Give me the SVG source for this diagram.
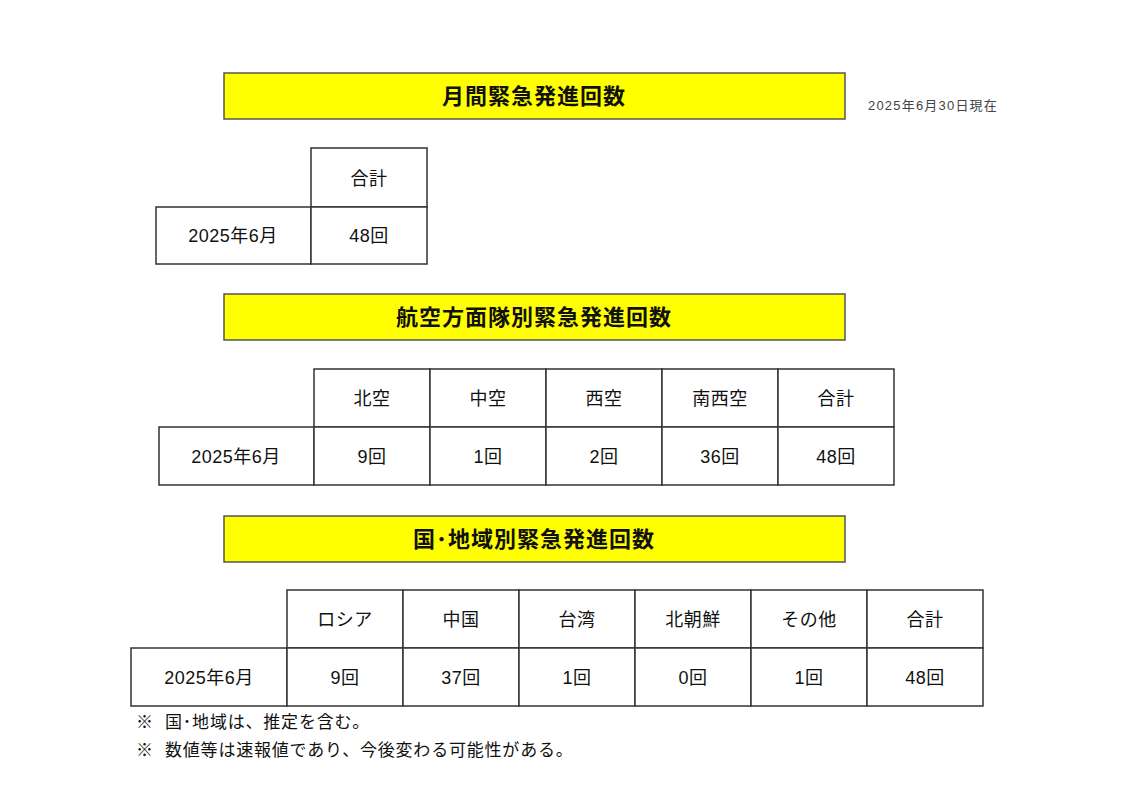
<svg xmlns="http://www.w3.org/2000/svg" width="1123" height="794" viewBox="0 0 1123 794">
<style>
text{font-family:"Liberation Sans","Noto Sans CJK JP",sans-serif;fill:#111}
.b{fill:#ffff00;stroke:#555;stroke-width:1.5}
.bt{font-size:22px;text-anchor:middle;font-weight:bold;letter-spacing:1px}
.c{fill:#fff;stroke:#333;stroke-width:1.5}
.t{font-size:18px;text-anchor:middle;letter-spacing:0.5px}
.n{font-size:17px;letter-spacing:0.8px}
</style>
<rect width="1123" height="794" fill="#fff"/>
<g id="title1"><rect class="b" x="224" y="73" width="621" height="46"/><text class="bt" x="534" y="104">月間緊急発進回数</text></g>
<text id="date" x="868" y="110" font-size="13" letter-spacing="1.2" style="fill:#444">2025年6月30日現在</text>
<g id="table1">
<rect class="c" x="311" y="148" width="116" height="59"/>
<rect class="c" x="156" y="207" width="155" height="57"/>
<rect class="c" x="311" y="207" width="116" height="57"/>
<text class="t" x="369" y="185">合計</text>
<text class="t" x="233" y="242">2025年6月</text>
<text class="t" x="369" y="242">48回</text>
</g>
<g id="title2"><rect class="b" x="224" y="294" width="621" height="46"/><text class="bt" x="534" y="325">航空方面隊別緊急発進回数</text></g>
<g id="table2">
<rect class="c" x="314" y="369" width="116" height="58"/><rect class="c" x="430" y="369" width="116" height="58"/><rect class="c" x="546" y="369" width="116" height="58"/><rect class="c" x="662" y="369" width="116" height="58"/><rect class="c" x="778" y="369" width="116" height="58"/>
<rect class="c" x="159" y="427" width="155" height="58"/>
<rect class="c" x="314" y="427" width="116" height="58"/><rect class="c" x="430" y="427" width="116" height="58"/><rect class="c" x="546" y="427" width="116" height="58"/><rect class="c" x="662" y="427" width="116" height="58"/><rect class="c" x="778" y="427" width="116" height="58"/>
<text class="t" x="372" y="405">北空</text><text class="t" x="488" y="405">中空</text><text class="t" x="604" y="405">西空</text><text class="t" x="720" y="405">南西空</text><text class="t" x="836" y="405">合計</text>
<text class="t" x="236" y="463">2025年6月</text>
<text class="t" x="372" y="463">9回</text><text class="t" x="488" y="463">1回</text><text class="t" x="604" y="463">2回</text><text class="t" x="720" y="463">36回</text><text class="t" x="836" y="463">48回</text>
</g>
<g id="title3"><rect class="b" x="224" y="516" width="621" height="46"/><text class="bt" x="534" y="547">国･地域別緊急発進回数</text></g>
<g id="table3">
<rect class="c" x="287" y="590" width="116" height="58"/><rect class="c" x="403" y="590" width="116" height="58"/><rect class="c" x="519" y="590" width="116" height="58"/><rect class="c" x="635" y="590" width="116" height="58"/><rect class="c" x="751" y="590" width="116" height="58"/><rect class="c" x="867" y="590" width="116" height="58"/>
<rect class="c" x="131" y="648" width="156" height="58"/>
<rect class="c" x="287" y="648" width="116" height="58"/><rect class="c" x="403" y="648" width="116" height="58"/><rect class="c" x="519" y="648" width="116" height="58"/><rect class="c" x="635" y="648" width="116" height="58"/><rect class="c" x="751" y="648" width="116" height="58"/><rect class="c" x="867" y="648" width="116" height="58"/>
<text class="t" x="345" y="626">ロシア</text><text class="t" x="461" y="626">中国</text><text class="t" x="577" y="626">台湾</text><text class="t" x="693" y="626">北朝鮮</text><text class="t" x="809" y="626">その他</text><text class="t" x="925" y="626">合計</text>
<text class="t" x="209" y="684">2025年6月</text>
<text class="t" x="345" y="684">9回</text><text class="t" x="461" y="684">37回</text><text class="t" x="577" y="684">1回</text><text class="t" x="693" y="684">0回</text><text class="t" x="809" y="684">1回</text><text class="t" x="925" y="684">48回</text>
</g>
<g id="notes">
<text class="n" x="136" y="728">※</text><text class="n" x="165" y="728">国･地域は、推定を含む。</text>
<text class="n" x="136" y="756">※</text><text class="n" x="165" y="756">数値等は速報値であり、今後変わる可能性がある。</text>
</g>
</svg>
